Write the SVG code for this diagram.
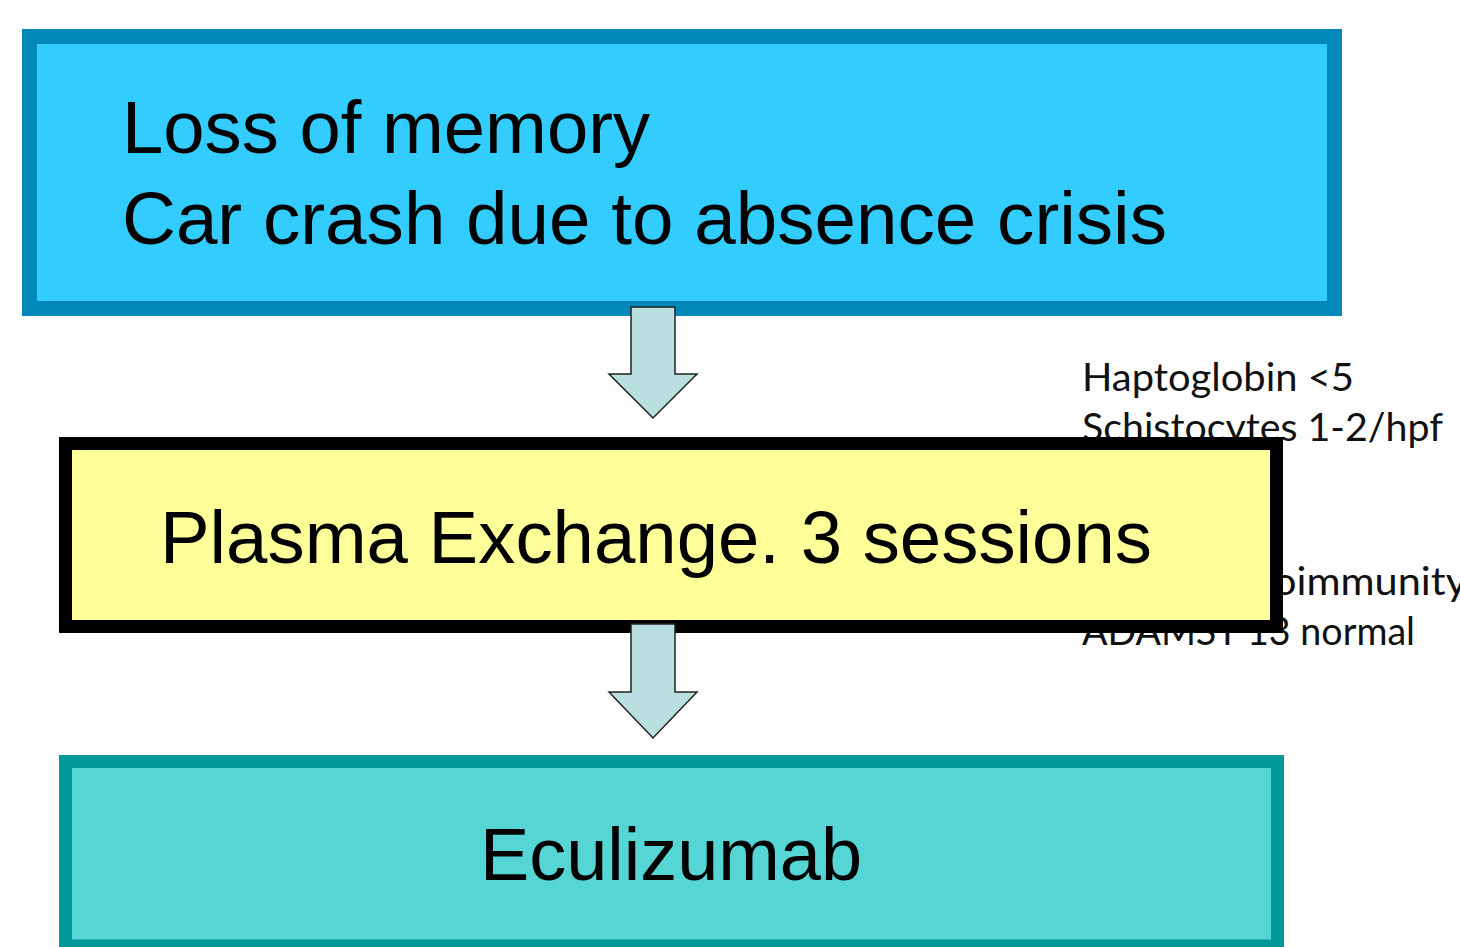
<svg xmlns="http://www.w3.org/2000/svg" width="1460" height="947" viewBox="0 0 1460 947">
<style>
.big{font-family:"Liberation Sans",Arial,sans-serif;font-size:74px;fill:#000}
.side{font-family:Lato,"Open Sans",sans-serif;font-size:38px;fill:#111}
.arrow{fill:#B9DFE1;stroke:#222;stroke-width:1.5;stroke-linejoin:miter}
</style>
<rect width="1460" height="947" fill="#fff"/>
<g id="side-notes">
<text class="side" x="1082" y="391" textLength="272" lengthAdjust="spacingAndGlyphs">Haptoglobin  &lt;5</text>
<text class="side" x="1082" y="441" textLength="361" lengthAdjust="spacingAndGlyphs">Schistocytes  1-2/hpf</text>
<text class="side" x="1273" y="595" textLength="194" lengthAdjust="spacingAndGlyphs">oimmunity</text>
<text class="side" x="1082" y="645" textLength="333" lengthAdjust="spacingAndGlyphs">ADAMST 13 normal</text>
</g>
<g id="node-symptoms">
<rect x="29.5" y="36.5" width="1305" height="272" fill="#33CCFF" stroke="#0088B8" stroke-width="15"/>
<text class="big" x="122" y="153" textLength="528" lengthAdjust="spacingAndGlyphs">Loss of memory</text>
<text class="big" x="122" y="244" textLength="1045" lengthAdjust="spacingAndGlyphs">Car crash due to absence crisis</text>
</g>
<g id="node-plasma">
<rect x="65.5" y="443.5" width="1211" height="183" fill="#FFFF99" stroke="#000" stroke-width="13"/>
<text class="big" x="160" y="563" textLength="992" lengthAdjust="spacingAndGlyphs">Plasma Exchange. 3 sessions</text>
</g>
<g id="node-eculizumab">
<rect x="65.5" y="761.5" width="1212" height="184.5" fill="#55D6D4" stroke="#009999" stroke-width="13"/>
<text class="big" x="480" y="880" textLength="382" lengthAdjust="spacingAndGlyphs">Eculizumab</text>
</g>
<g id="connectors">
<polygon class="arrow" points="631,307 675,307 675,374 697,374 653,418 609,374 631,374"/>
<polygon class="arrow" points="631,624 675,624 675,692 697,692 653,738 609,692 631,692"/>
</g>
</svg>
